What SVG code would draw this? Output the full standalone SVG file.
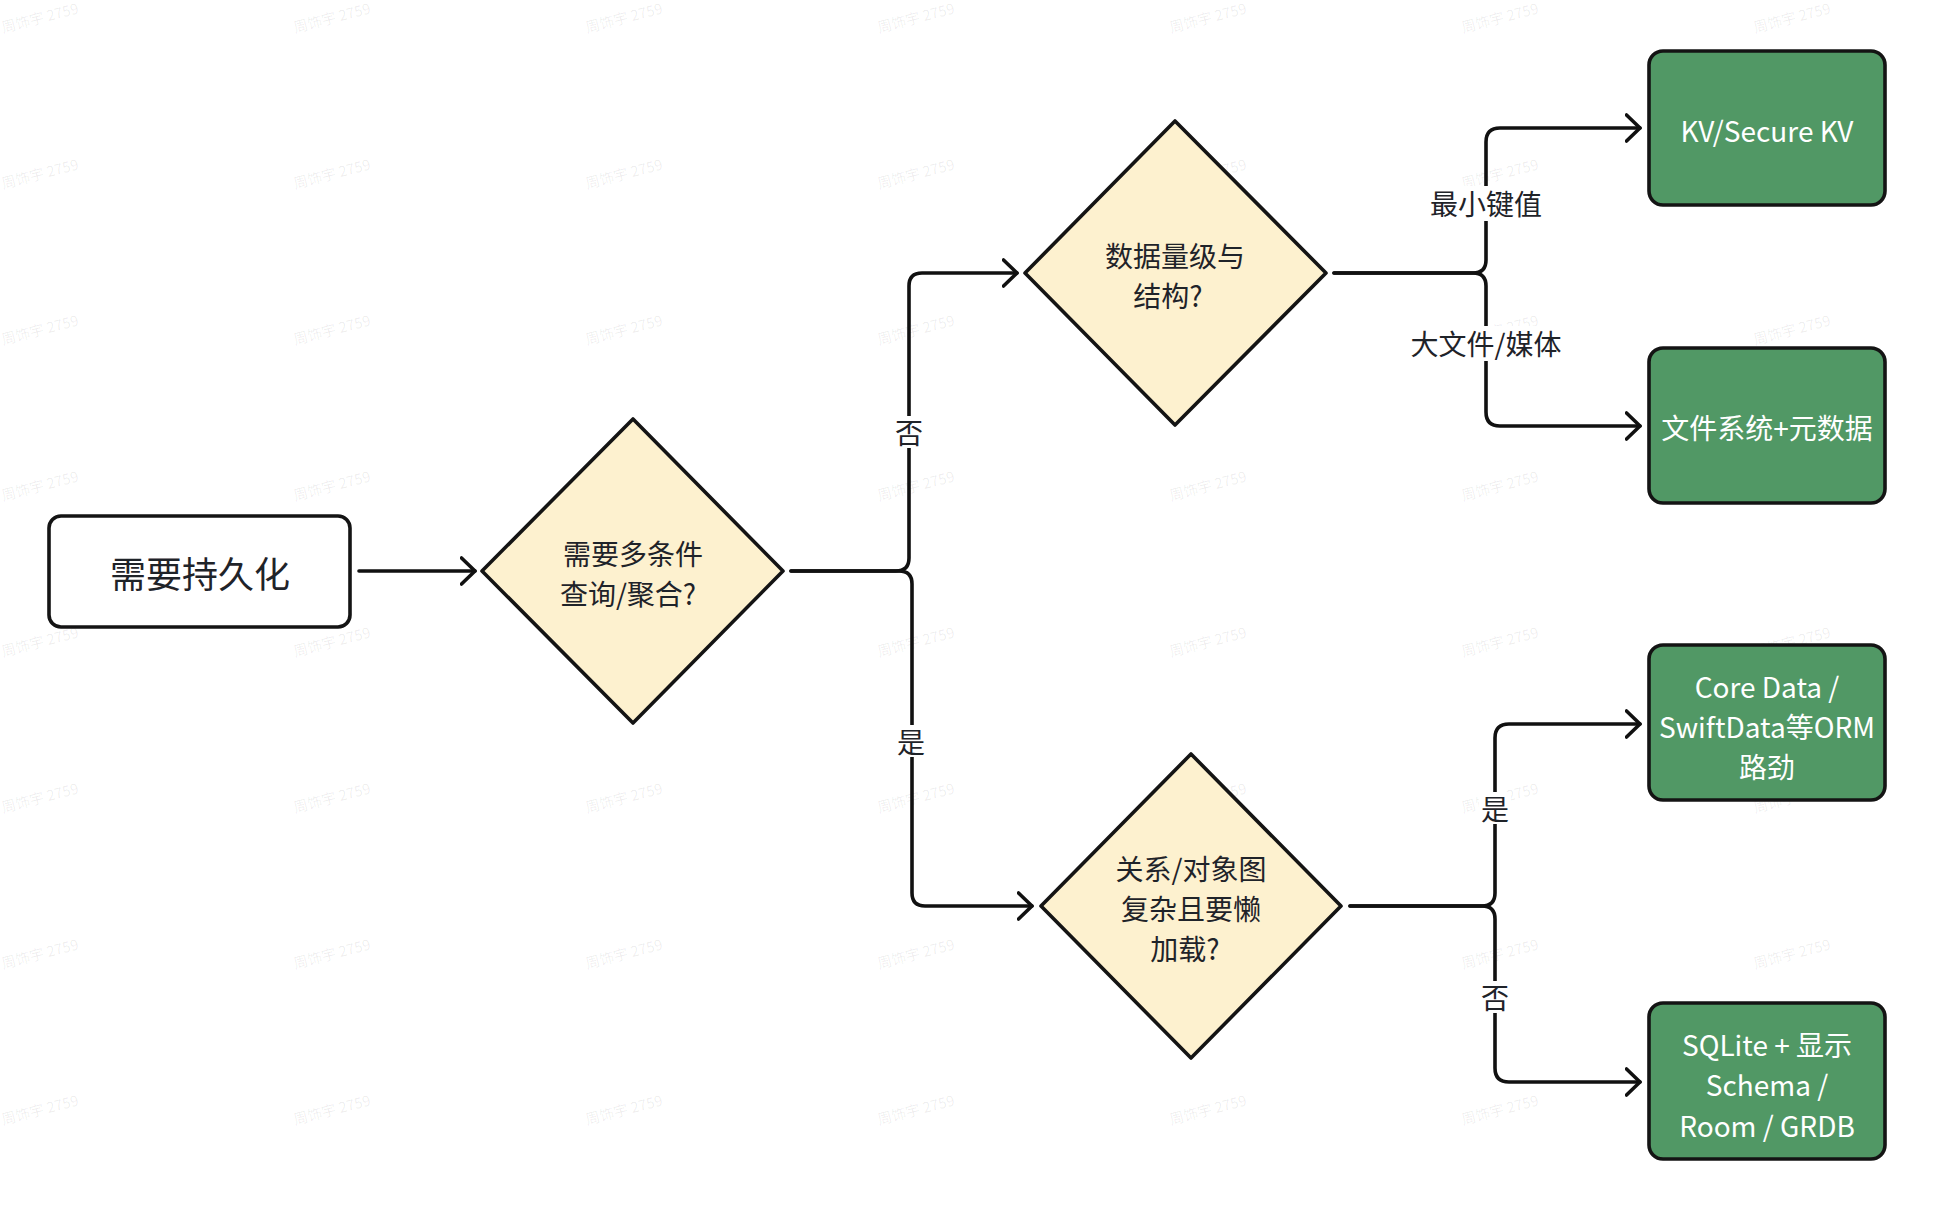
<svg xmlns="http://www.w3.org/2000/svg" width="1934" height="1209" viewBox="0 0 1934 1209">
<style>
text{font-family:"Noto Sans CJK SC","Noto Sans",sans-serif;}
.wm{font-size:14.5px;fill:#000;fill-opacity:0.07;}
.node{stroke:#141414;stroke-width:3.6;stroke-linejoin:round;}
.start{fill:#ffffff;}
.dec{fill:#fdf1cf;}
.res{fill:#519865;}
.t{font-size:28px;font-weight:400;fill:#1f2329;text-anchor:middle;dominant-baseline:central;}
.tw{font-size:28px;font-weight:400;fill:#ffffff;text-anchor:middle;dominant-baseline:central;}
.big{font-size:36px;}
.edge{fill:none;stroke:#111111;stroke-width:3.6;stroke-linecap:round;stroke-linejoin:round;}
.lbg{fill:#ffffff;}
</style>
<defs>
<marker id="arr" viewBox="0 0 30 30" refX="15" refY="15" markerWidth="30" markerHeight="30" markerUnits="userSpaceOnUse" orient="auto">
<path d="M1.5 2 L15 15 L1.5 28" fill="none" stroke="#111111" stroke-width="3.6" stroke-linecap="round" stroke-linejoin="round"/>
</marker>
</defs>
<rect width="1934" height="1209" fill="#ffffff"/>
<g id="watermark">
<text class="wm" transform="translate(3,33) rotate(-14.5)">周饰宇 2759</text>
<text class="wm" transform="translate(295,33) rotate(-14.5)">周饰宇 2759</text>
<text class="wm" transform="translate(587,33) rotate(-14.5)">周饰宇 2759</text>
<text class="wm" transform="translate(879,33) rotate(-14.5)">周饰宇 2759</text>
<text class="wm" transform="translate(1171,33) rotate(-14.5)">周饰宇 2759</text>
<text class="wm" transform="translate(1463,33) rotate(-14.5)">周饰宇 2759</text>
<text class="wm" transform="translate(1755,33) rotate(-14.5)">周饰宇 2759</text>
<text class="wm" transform="translate(3,189) rotate(-14.5)">周饰宇 2759</text>
<text class="wm" transform="translate(295,189) rotate(-14.5)">周饰宇 2759</text>
<text class="wm" transform="translate(587,189) rotate(-14.5)">周饰宇 2759</text>
<text class="wm" transform="translate(879,189) rotate(-14.5)">周饰宇 2759</text>
<text class="wm" transform="translate(1171,189) rotate(-14.5)">周饰宇 2759</text>
<text class="wm" transform="translate(1463,189) rotate(-14.5)">周饰宇 2759</text>
<text class="wm" transform="translate(1755,189) rotate(-14.5)">周饰宇 2759</text>
<text class="wm" transform="translate(3,345) rotate(-14.5)">周饰宇 2759</text>
<text class="wm" transform="translate(295,345) rotate(-14.5)">周饰宇 2759</text>
<text class="wm" transform="translate(587,345) rotate(-14.5)">周饰宇 2759</text>
<text class="wm" transform="translate(879,345) rotate(-14.5)">周饰宇 2759</text>
<text class="wm" transform="translate(1171,345) rotate(-14.5)">周饰宇 2759</text>
<text class="wm" transform="translate(1463,345) rotate(-14.5)">周饰宇 2759</text>
<text class="wm" transform="translate(1755,345) rotate(-14.5)">周饰宇 2759</text>
<text class="wm" transform="translate(3,501) rotate(-14.5)">周饰宇 2759</text>
<text class="wm" transform="translate(295,501) rotate(-14.5)">周饰宇 2759</text>
<text class="wm" transform="translate(587,501) rotate(-14.5)">周饰宇 2759</text>
<text class="wm" transform="translate(879,501) rotate(-14.5)">周饰宇 2759</text>
<text class="wm" transform="translate(1171,501) rotate(-14.5)">周饰宇 2759</text>
<text class="wm" transform="translate(1463,501) rotate(-14.5)">周饰宇 2759</text>
<text class="wm" transform="translate(1755,501) rotate(-14.5)">周饰宇 2759</text>
<text class="wm" transform="translate(3,657) rotate(-14.5)">周饰宇 2759</text>
<text class="wm" transform="translate(295,657) rotate(-14.5)">周饰宇 2759</text>
<text class="wm" transform="translate(587,657) rotate(-14.5)">周饰宇 2759</text>
<text class="wm" transform="translate(879,657) rotate(-14.5)">周饰宇 2759</text>
<text class="wm" transform="translate(1171,657) rotate(-14.5)">周饰宇 2759</text>
<text class="wm" transform="translate(1463,657) rotate(-14.5)">周饰宇 2759</text>
<text class="wm" transform="translate(1755,657) rotate(-14.5)">周饰宇 2759</text>
<text class="wm" transform="translate(3,813) rotate(-14.5)">周饰宇 2759</text>
<text class="wm" transform="translate(295,813) rotate(-14.5)">周饰宇 2759</text>
<text class="wm" transform="translate(587,813) rotate(-14.5)">周饰宇 2759</text>
<text class="wm" transform="translate(879,813) rotate(-14.5)">周饰宇 2759</text>
<text class="wm" transform="translate(1171,813) rotate(-14.5)">周饰宇 2759</text>
<text class="wm" transform="translate(1463,813) rotate(-14.5)">周饰宇 2759</text>
<text class="wm" transform="translate(1755,813) rotate(-14.5)">周饰宇 2759</text>
<text class="wm" transform="translate(3,969) rotate(-14.5)">周饰宇 2759</text>
<text class="wm" transform="translate(295,969) rotate(-14.5)">周饰宇 2759</text>
<text class="wm" transform="translate(587,969) rotate(-14.5)">周饰宇 2759</text>
<text class="wm" transform="translate(879,969) rotate(-14.5)">周饰宇 2759</text>
<text class="wm" transform="translate(1171,969) rotate(-14.5)">周饰宇 2759</text>
<text class="wm" transform="translate(1463,969) rotate(-14.5)">周饰宇 2759</text>
<text class="wm" transform="translate(1755,969) rotate(-14.5)">周饰宇 2759</text>
<text class="wm" transform="translate(3,1125) rotate(-14.5)">周饰宇 2759</text>
<text class="wm" transform="translate(295,1125) rotate(-14.5)">周饰宇 2759</text>
<text class="wm" transform="translate(587,1125) rotate(-14.5)">周饰宇 2759</text>
<text class="wm" transform="translate(879,1125) rotate(-14.5)">周饰宇 2759</text>
<text class="wm" transform="translate(1171,1125) rotate(-14.5)">周饰宇 2759</text>
<text class="wm" transform="translate(1463,1125) rotate(-14.5)">周饰宇 2759</text>
<text class="wm" transform="translate(1755,1125) rotate(-14.5)">周饰宇 2759</text>
</g>
<g id="connectors">
<path class="edge" d="M359 571 H475" marker-end="url(#arr)"/>
<path class="edge" d="M791 571 H896 Q909 571 909 558 V286 Q909 273 922 273 H1017" marker-end="url(#arr)"/>
<path class="edge" d="M791 571 H899 Q912 571 912 584 V893 Q912 906 925 906 H1032" marker-end="url(#arr)"/>
<path class="edge" d="M1334 273 H1473 Q1486 273 1486 260 V142 Q1486 128 1500 128 H1640" marker-end="url(#arr)"/>
<path class="edge" d="M1334 273 H1473 Q1486 273 1486 286 V412 Q1486 426 1500 426 H1640" marker-end="url(#arr)"/>
<path class="edge" d="M1350 906 H1482 Q1495 906 1495 893 V738 Q1495 724 1509 724 H1640" marker-end="url(#arr)"/>
<path class="edge" d="M1350 906 H1482 Q1495 906 1495 919 V1068 Q1495 1082 1509 1082 H1640" marker-end="url(#arr)"/>
<g id="edge-labels">
<rect class="lbg" x="893" y="416" width="32" height="32"/>
<text class="t" x="909" y="432">否</text>
<rect class="lbg" x="896" y="725" width="32" height="32"/>
<text class="t" x="911" y="741">是</text>
<rect class="lbg" x="1429" y="186" width="114" height="35"/>
<text class="t" x="1486" y="203">最小键值</text>
<rect class="lbg" x="1409" y="326" width="154" height="35"/>
<text class="t" x="1486" y="343">大文件/媒体</text>
<rect class="lbg" x="1479" y="792" width="32" height="32"/>
<text class="t" x="1495" y="808">是</text>
<rect class="lbg" x="1479" y="981" width="32" height="32"/>
<text class="t" x="1495" y="997">否</text>
</g>
</g>
<g id="n-start">
<rect class="node start" x="49" y="516" width="301" height="111" rx="12"/>
<text class="t big" x="200" y="572">需要持久化</text>
</g>
<g id="n-query">
<polygon class="node dec" points="633,419 783,571 633,723 482,571"/>
<text class="t" x="633" y="553">需要多条件</text>
<text class="t" x="628" y="593">查询/聚合?</text>
</g>
<g id="n-size">
<polygon class="node dec" points="1175,121 1326,273 1175,425 1025,273"/>
<text class="t" x="1175" y="255">数据量级与</text>
<text class="t" x="1168" y="295">结构?</text>
</g>
<g id="n-graph">
<polygon class="node dec" points="1191,754 1341,906 1191,1058 1041,906"/>
<text class="t" x="1191" y="868">关系/对象图</text>
<text class="t" x="1191" y="908">复杂且要懒</text>
<text class="t" x="1185" y="948">加载?</text>
</g>
<g id="n-kv">
<rect class="node res" x="1649" y="51" width="236" height="154" rx="14"/>
<text class="tw" x="1767" y="130">KV/Secure KV</text>
</g>
<g id="n-fs">
<rect class="node res" x="1649" y="348" width="236" height="155" rx="14"/>
<text class="tw" x="1767" y="427">文件系统+元数据</text>
</g>
<g id="n-orm">
<rect class="node res" x="1649" y="645" width="236" height="155" rx="14"/>
<text class="tw" x="1767" y="686">Core Data /</text>
<text class="tw" x="1767" y="726">SwiftData等ORM</text>
<text class="tw" x="1767" y="766">路劲</text>
</g>
<g id="n-sqlite">
<rect class="node res" x="1649" y="1003" width="236" height="156" rx="14"/>
<text class="tw" x="1767" y="1044">SQLite + 显示</text>
<text class="tw" x="1767" y="1084">Schema /</text>
<text class="tw" x="1767" y="1125">Room / GRDB</text>
</g>
</svg>
